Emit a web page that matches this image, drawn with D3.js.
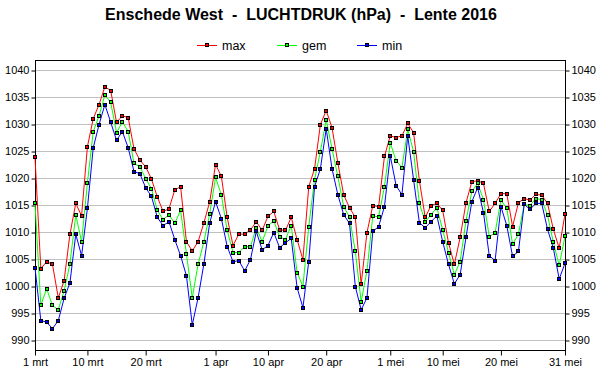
<!DOCTYPE html>
<html><head><meta charset="utf-8">
<script src="https://cdn.jsdelivr.net/npm/d3@7"></script>
<style>
body{margin:0;background:#fff;}
svg{display:block;font-family:"Liberation Sans",Arial,sans-serif;}
</style></head>
<body>
<svg id="c" width="600" height="390"></svg>
<script>
const titleText = "Enschede West  -  LUCHTDRUK (hPa)  -  Lente 2016";
const seriesNames = ["max", "gem", "min"];
const seriesColors = ["#ff0000", "#00ff00", "#0000ff"];
const xTickDays = [0, 9, 19, 31, 40, 50, 61, 70, 80, 91];
const xTickLabels = ["1 mrt", "10 mrt", "20 mrt", "1 apr", "10 apr", "20 apr", "1 mei", "10 mei", "20 mei", "31 mei"];
const yTicks = [990, 995, 1000, 1005, 1010, 1015, 1020, 1025, 1030, 1035, 1040];

const maxValues = [1023.8,1003.2,1004.5,1004.0,997.8,1001.0,1009.6,1015.3,1013.0,1025.8,
1031.0,1033.6,1036.9,1036.2,1030.3,1031.5,1031.2,1025.4,1023.3,1022.1,
1019.8,1016.5,1013.8,1014.3,1017.8,1018.4,1008.2,1006.5,1008.2,1011.7,
1015.6,1022.5,1020.3,1012.7,1007.5,1009.6,1009.6,1010.4,1011.9,1010.3,
1012.9,1013.8,1010.4,1010.3,1012.7,1008.6,1004.9,1018.4,1021.7,1029.9,
1032.5,1029.3,1022.8,1016.9,1014.5,1012.7,1000.3,1009.9,1014.9,1014.7,
1024.0,1027.8,1027.5,1027.8,1030.1,1028.4,1019.5,1012.7,1014.9,1015.3,
1014.0,1008.0,1004.0,1009.0,1015.4,1019.3,1019.5,1019.0,1013.8,1015.3,
1017.1,1017.1,1011.0,1015.4,1016.2,1015.9,1017.0,1016.8,1015.3,1010.5,
1007.0,1013.3];
const gemValues = [1015.3,996.4,999.5,996.4,995.6,999.1,1004.1,1013.2,1008.2,1019.1,
1028.6,1031.5,1035.4,1034.0,1028.4,1030.4,1028.6,1022.7,1022.1,1019.9,
1018.0,1014.0,1012.3,1013.2,1011.6,1014.0,1006.0,997.8,1004.0,1008.2,
1013.4,1020.1,1016.9,1010.3,1006.2,1006.2,1007.3,1007.3,1010.8,1008.2,
1011.1,1012.1,1009.1,1008.6,1011.2,1002.5,999.9,1011.0,1019.7,1024.9,
1030.8,1025.4,1020.3,1014.7,1012.8,1006.4,997.1,1002.8,1013.0,1012.8,
1018.4,1026.5,1023.2,1021.9,1029.0,1024.9,1015.3,1011.9,1013.2,1014.5,
1010.4,1006.2,1002.1,1004.5,1012.1,1017.5,1019.0,1016.0,1009.1,1009.9,
1015.9,1014.4,1007.7,1009.6,1015.1,1014.9,1016.2,1016.0,1013.1,1008.1,
1003.8,1009.2];
const minValues = [1003.4,993.6,993.3,992.1,993.6,997.7,1000.6,1009.6,1005.6,1014.4,
1025.6,1029.9,1033.6,1030.3,1027.0,1028.6,1025.6,1021.2,1020.8,1018.2,
1016.6,1012.7,1011.2,1011.9,1008.6,1005.6,1001.9,992.8,997.8,1004.1,
1011.7,1015.6,1012.5,1007.3,1004.5,1004.7,1002.8,1004.9,1010.1,1006.7,
1007.5,1009.9,1007.1,1008.0,1008.8,999.7,996.0,1004.5,1018.4,1021.7,
1029.1,1021.7,1016.9,1013.2,1011.6,999.9,995.6,997.8,1010.1,1011.0,
1014.7,1024.1,1018.6,1016.9,1027.8,1019.7,1011.7,1010.8,1011.9,1013.0,
1008.2,1004.0,1000.4,1002.1,1009.0,1015.6,1018.2,1013.6,1005.6,1004.7,
1014.7,1011.2,1005.5,1006.4,1015.1,1014.2,1015.3,1015.3,1010.5,1007.0,
1001.3,1004.2];

const allSeries = [maxValues, gemValues, minValues];

const L = 35, R = 565, T = 60, B = 350;
const svg = d3.select("#c");
const x = d3.scaleLinear().domain([0, 91]).range([L, R]);
const y = d3.scaleLinear().domain([990, 1040]).range([340, 70]);

// title
svg.append("text").attr("x", 301).attr("y", 20).attr("text-anchor", "middle")
  .style("font-size", "16px").style("font-weight", "bold").style("white-space", "pre")
  .attr("xml:space", "preserve").text(titleText);

// legend
const legX = [197, 277, 357];
seriesNames.forEach((n, i) => {
  const g = svg.append("g");
  g.append("line").attr("x1", legX[i]).attr("x2", legX[i] + 20).attr("y1", 45.5).attr("y2", 45.5)
    .attr("stroke", seriesColors[i]).attr("stroke-width", 1);
  g.append("rect").attr("x", legX[i] + 8.5).attr("y", 43.5).attr("width", 3).attr("height", 3)
    .attr("fill", seriesColors[i]).attr("stroke", "#000").attr("stroke-width", 1);
  g.append("text").attr("x", legX[i] + 25).attr("y", 50).style("font-size", "12.5px").text(n);
});

// grid
svg.append("g").selectAll("line").data(yTicks).join("line")
  .attr("x1", L).attr("x2", R).attr("y1", d => Math.round(y(d)) + 0.5).attr("y2", d => Math.round(y(d)) + 0.5)
  .attr("stroke", "#c0c0c0").attr("stroke-width", 1);

// axes
const yl = svg.append("g").attr("transform", `translate(${L + 0.5},0)`)
  .call(d3.axisLeft(y).tickValues(yTicks).tickSize(4).tickSizeOuter(0).tickFormat(d3.format("d")));
const yr = svg.append("g").attr("transform", `translate(${R + 0.5},0)`)
  .call(d3.axisRight(y).tickValues(yTicks).tickSize(4).tickSizeOuter(0).tickFormat(d3.format("d")));
const xb = svg.append("g").attr("transform", `translate(0,${B + 0.5})`)
  .call(d3.axisBottom(x).tickValues(xTickDays).tickSize(5).tickSizeOuter(0)
    .tickFormat((d, i) => xTickLabels[i]));
[yl, yr, xb].forEach(a => {
  a.select(".domain").remove();
  a.selectAll("text").style("font-size", "11px").style("font-family", "'Liberation Sans',Arial,sans-serif").attr("fill", "#000");
  a.selectAll(".tick line").attr("stroke", "#000");
});
yl.selectAll(".tick line").attr("transform", "translate(0,0.5)");
yr.selectAll(".tick line").attr("transform", "translate(0,0.5)");
yl.selectAll("text").attr("x", -6).attr("dy", "0.35em");
yr.selectAll("text").attr("x", 6).attr("dy", "0.35em");
xb.selectAll("text").attr("y", 8);

// frame
svg.append("rect").attr("x", L + 0.5).attr("y", T + 0.5).attr("width", R - L).attr("height", B - T)
  .attr("fill", "none").attr("stroke", "#000").attr("stroke-width", 1);

// series
const line = d3.line().x((d, i) => x(i)).y(d => y(d));
allSeries.forEach((vals, s) => {
  svg.append("path").datum(vals).attr("d", line).attr("fill", "none")
    .attr("stroke", seriesColors[s]).attr("stroke-width", 1);
});
allSeries.forEach((vals, s) => {
  svg.append("g").selectAll("rect").data(vals).join("rect")
    .attr("x", (d, i) => Math.round(x(i)) - 2 + 0.5).attr("y", d => Math.round(y(d)) - 2 + 0.5)
    .attr("width", 3).attr("height", 3)
    .attr("fill", seriesColors[s]).attr("stroke", "#000").attr("stroke-width", 1);
});
</script>
</body></html>
